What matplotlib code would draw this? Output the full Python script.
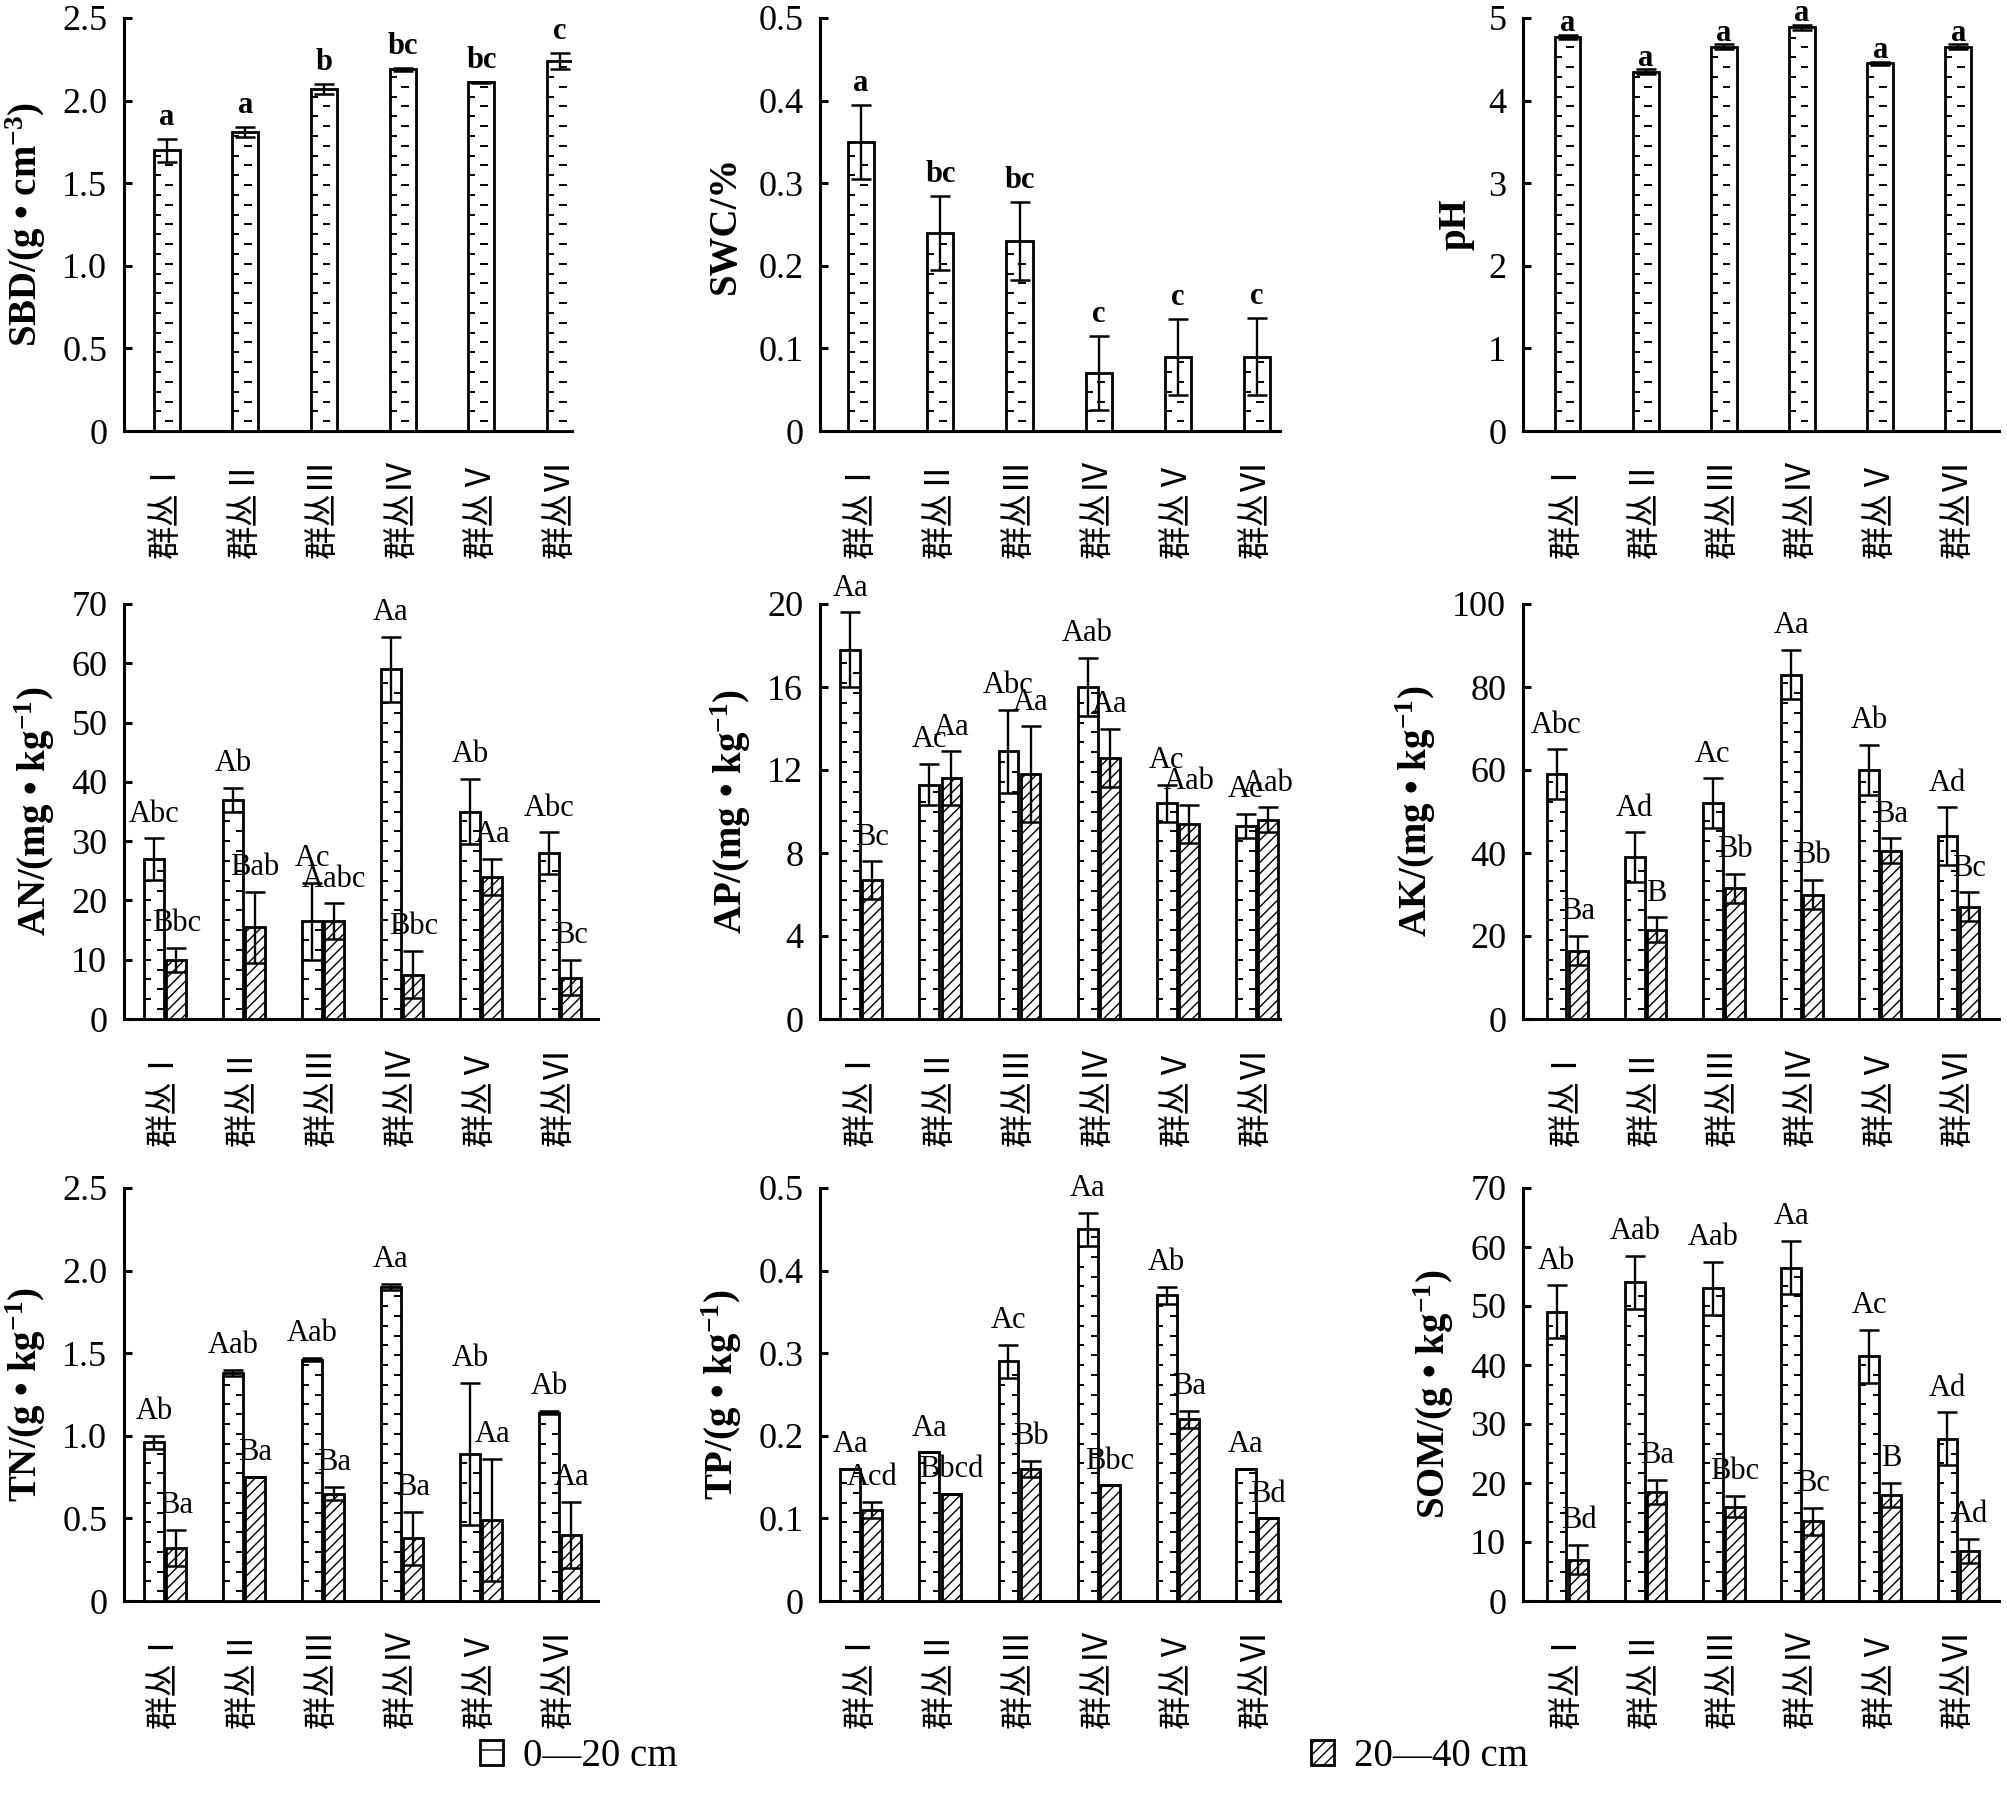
import numpy as np
import matplotlib.pyplot as plt
from matplotlib.patches import Patch

plt.rcParams['font.family'] = ['Liberation Serif', 'Noto Sans CJK SC']
plt.rcParams['mathtext.fontset'] = 'custom'
plt.rcParams['mathtext.rm'] = 'Liberation Serif:bold'
plt.rcParams['mathtext.default'] = 'rm'
plt.rcParams['hatch.linewidth'] = 0.5

groups = ['群丛Ⅰ', '群丛Ⅱ', '群丛Ⅲ', '群丛Ⅳ', '群丛Ⅴ', '群丛Ⅵ']

# top row: one depth only
sbd = [1.70, 1.81, 2.07, 2.19, 2.11, 2.24]
sbd_err = [0.07, 0.03, 0.03, 0.01, 0.005, 0.05]
sbd_let = ['a', 'a', 'b', 'bc', 'bc', 'c']

swc = [0.35, 0.24, 0.23, 0.07, 0.09, 0.09]
swc_err = [0.045, 0.045, 0.047, 0.045, 0.046, 0.047]
swc_let = ['a', 'bc', 'bc', 'c', 'c', 'c']

ph = [4.77, 4.35, 4.65, 4.89, 4.45, 4.65]
ph_err = [0.03, 0.03, 0.03, 0.03, 0.02, 0.03]
ph_let = ['a', 'a', 'a', 'a', 'a', 'a']

# two depths: 0-20 cm / 20-40 cm
an_1 = [27, 37, 16.5, 59, 35, 28]
an_1_err = [3.5, 2, 6.5, 5.5, 5.5, 3.5]
an_1_let = ['Abc', 'Ab', 'Ac', 'Aa', 'Ab', 'Abc']
an_2 = [10, 15.5, 16.5, 7.5, 24, 7]
an_2_err = [2, 6, 3, 4, 3, 3]
an_2_let = ['Bbc', 'Bab', 'Aabc', 'Bbc', 'Aa', 'Bc']

ap_1 = [17.8, 11.3, 12.9, 16.0, 10.4, 9.3]
ap_1_err = [1.8, 1.0, 2.0, 1.4, 0.9, 0.6]
ap_1_let = ['Aa', 'Ac', 'Abc', 'Aab', 'Ac', 'Ac']
ap_2 = [6.7, 11.6, 11.8, 12.6, 9.4, 9.6]
ap_2_err = [0.9, 1.3, 2.3, 1.4, 0.9, 0.6]
ap_2_let = ['Bc', 'Aa', 'Aa', 'Aa', 'Aab', 'Aab']

ak_1 = [59, 39, 52, 83, 60, 44]
ak_1_err = [6, 6, 6, 6, 6, 7]
ak_1_let = ['Abc', 'Ad', 'Ac', 'Aa', 'Ab', 'Ad']
ak_2 = [16.5, 21.5, 31.5, 30, 40.5, 27]
ak_2_err = [3.5, 3, 3.5, 3.5, 3, 3.5]
ak_2_let = ['Ba', 'B', 'Bb', 'Bb', 'Ba', 'Bc']

tn_1 = [0.96, 1.38, 1.46, 1.90, 0.89, 1.14]
tn_1_err = [0.04, 0.02, 0.01, 0.02, 0.43, 0.01]
tn_1_let = ['Ab', 'Aab', 'Aab', 'Aa', 'Ab', 'Ab']
tn_2 = [0.32, 0.75, 0.65, 0.38, 0.49, 0.40]
tn_2_err = [0.11, 0.0, 0.04, 0.16, 0.37, 0.20]
tn_2_let = ['Ba', 'Ba', 'Ba', 'Ba', 'Aa', 'Aa']

tp_1 = [0.16, 0.18, 0.29, 0.45, 0.37, 0.16]
tp_1_err = [0.0, 0.0, 0.02, 0.02, 0.01, 0.0]
tp_1_let = ['Aa', 'Aa', 'Ac', 'Aa', 'Ab', 'Aa']
tp_2 = [0.11, 0.13, 0.16, 0.14, 0.22, 0.10]
tp_2_err = [0.01, 0.0, 0.01, 0.0, 0.01, 0.0]
tp_2_let = ['Acd', 'Bbcd', 'Bb', 'Bbc', 'Ba', 'Bd']

som_1 = [49, 54, 53, 56.5, 41.5, 27.5]
som_1_err = [4.5, 4.5, 4.5, 4.5, 4.5, 4.5]
som_1_let = ['Ab', 'Aab', 'Aab', 'Aa', 'Ac', 'Ad']
som_2 = [7, 18.5, 16, 13.5, 18, 8.5]
som_2_err = [2.5, 2, 1.8, 2.3, 2, 2]
som_2_let = ['Bd', 'Ba', 'Bbc', 'Bc', 'B', 'Ad']

# figure layout in pixels
W, H = 2007, 1796
col_x = [(124, 572), (820, 1280), (1523, 1999)]
col_x_pair = [(124, 598), (820, 1280), (1523, 1999)]
row_y = [(18, 431), (604, 1019), (1188, 1601)]
col_xlim = [(-0.54, 5.15), (-0.52, 5.29), (-0.57, 5.52)]
col_xlim_pair = [(-0.52, 5.48), (-0.52, 5.29), (-0.57, 5.52)]

fig = plt.figure(figsize=(W / 200, H / 200), dpi=200)


def dashes(ax, xc, heights, w, ymax, row_a, row_b):
    # "ruler" dash fill of the 0-20 cm bars
    step = ymax / 42
    ys, x0, x1 = [], [], []
    for c, h in zip(xc, heights):
        for k, y in enumerate(np.arange(step, h - step * 0.4, step)):
            a, b = row_b if k % 2 == 0 else row_a
            ys.append(y)
            x0.append(c - w / 2 + a * w)
            x1.append(c - w / 2 + b * w)
    ax.hlines(ys, x0, x1, colors='k', linewidth=0.7, zorder=3.5)


def panel(r, c, ylabel, ymax, ticks, ticklabels, m1, e1, l1, m2=None, e2=None, l2=None,
          off=None):
    single = m2 is None
    (xa, xb), (yt, yz) = (col_x if single else col_x_pair)[c], row_y[r]
    ax = fig.add_axes([xa / W, 1 - yz / H, (xb - xa) / W, (yz - yt) / H])
    x = np.arange(len(groups))
    if single:
        w = 0.33
        x1 = x
        row_a, row_b = (0.0, 0.27), (0.45, 0.75)
    else:
        w = 0.25
        x1 = x - 0.14
        x2 = x + 0.14
        row_a, row_b = (0.0, 0.33), (0.67, 1.0)
    ax.bar(x1, m1, w, facecolor='white', edgecolor='k', linewidth=1.0, zorder=3)
    dashes(ax, x1, m1, w, ymax, row_a, row_b)
    ax.errorbar(x1, m1, yerr=e1, fmt='none', ecolor='k', elinewidth=0.85,
                capsize=3.6, capthick=0.9, zorder=4)
    if off is None:
        off = 5 if single else 6
    for xi, m, e, t in zip(x1, m1, e1, l1):
        ax.annotate(t, (xi, m + e), xytext=(0, off), textcoords='offset points',
                    ha='center', va='baseline', fontsize=11,
                    fontweight='bold' if single else 'normal')
    if not single:
        ax.bar(x2, m2, w, facecolor='white', edgecolor='k', hatch='//////',
               linewidth=1.0, zorder=3)
        ax.errorbar(x2, m2, yerr=e2, fmt='none', ecolor='k', elinewidth=0.85,
                    capsize=3.6, capthick=0.9, zorder=4)
        for xi, m, e, t in zip(x2, m2, e2, l2):
            ax.annotate(t, (xi, m + e), xytext=(0, off), textcoords='offset points',
                        ha='center', va='baseline', fontsize=11)
    ax.set_xlim(*(col_xlim if single else col_xlim_pair)[c])
    ax.set_ylim(0, ymax)
    ax.set_yticks(ticks)
    ax.set_yticklabels(ticklabels)
    ax.set_xticks(x)
    ax.set_xticklabels(groups, rotation=90, fontsize=12)
    ax.tick_params(axis='y', direction='in', length=3, width=1.1, labelsize=13, pad=6)
    ax.tick_params(axis='x', length=0, pad=10)
    for s in ['top', 'right']:
        ax.spines[s].set_visible(False)
    for s in ['left', 'bottom']:
        ax.spines[s].set_linewidth(1.1)
    ax.set_ylabel(ylabel, fontsize=14, fontweight='bold', labelpad=5)
    return ax


panel(0, 0, r'SBD/(g • cm$^{-3}$)', 2.5, [0, 0.5, 1.0, 1.5, 2.0, 2.5],
      ['0', '0.5', '1.0', '1.5', '2.0', '2.5'], sbd, sbd_err, sbd_let)
panel(0, 1, 'SWC/%', 0.5, [0, 0.1, 0.2, 0.3, 0.4, 0.5],
      ['0', '0.1', '0.2', '0.3', '0.4', '0.5'], swc, swc_err, swc_let)
panel(0, 2, 'pH', 5, [0, 1, 2, 3, 4, 5], ['0', '1', '2', '3', '4', '5'],
      ph, ph_err, ph_let, off=1.2)

panel(1, 0, r'AN/(mg • kg$^{-1}$)', 70, range(0, 71, 10),
      [str(v) for v in range(0, 71, 10)],
      an_1, an_1_err, an_1_let, an_2, an_2_err, an_2_let)
panel(1, 1, r'AP/(mg • kg$^{-1}$)', 20, range(0, 21, 4),
      [str(v) for v in range(0, 21, 4)],
      ap_1, ap_1_err, ap_1_let, ap_2, ap_2_err, ap_2_let)
panel(1, 2, r'AK/(mg • kg$^{-1}$)', 100, range(0, 101, 20),
      [str(v) for v in range(0, 101, 20)],
      ak_1, ak_1_err, ak_1_let, ak_2, ak_2_err, ak_2_let)

panel(2, 0, r'TN/(g • kg$^{-1}$)', 2.5, [0, 0.5, 1.0, 1.5, 2.0, 2.5],
      ['0', '0.5', '1.0', '1.5', '2.0', '2.5'],
      tn_1, tn_1_err, tn_1_let, tn_2, tn_2_err, tn_2_let)
panel(2, 1, r'TP/(g • kg$^{-1}$)', 0.5, [0, 0.1, 0.2, 0.3, 0.4, 0.5],
      ['0', '0.1', '0.2', '0.3', '0.4', '0.5'],
      tp_1, tp_1_err, tp_1_let, tp_2, tp_2_err, tp_2_let)
panel(2, 2, r'SOM/(g • kg$^{-1}$)', 70, range(0, 71, 10),
      [str(v) for v in range(0, 71, 10)],
      som_1, som_1_err, som_1_let, som_2, som_2_err, som_2_let)

leg_kw = dict(loc='center left', frameon=False, fontsize=14, handlelength=0.6,
              handleheight=0.6, handletextpad=0.5, borderaxespad=0, borderpad=0)
fig.legend(handles=[Patch(facecolor='white', edgecolor='k', hatch='-', label='0—20 cm')],
           bbox_to_anchor=(480 / W, 1 - 1757 / H), **leg_kw)
fig.legend(handles=[Patch(facecolor='white', edgecolor='k', hatch='//////', label='20—40 cm')],
           bbox_to_anchor=(1311 / W, 1 - 1757 / H), **leg_kw)

fig.savefig('out.png', dpi=200, facecolor='white')
